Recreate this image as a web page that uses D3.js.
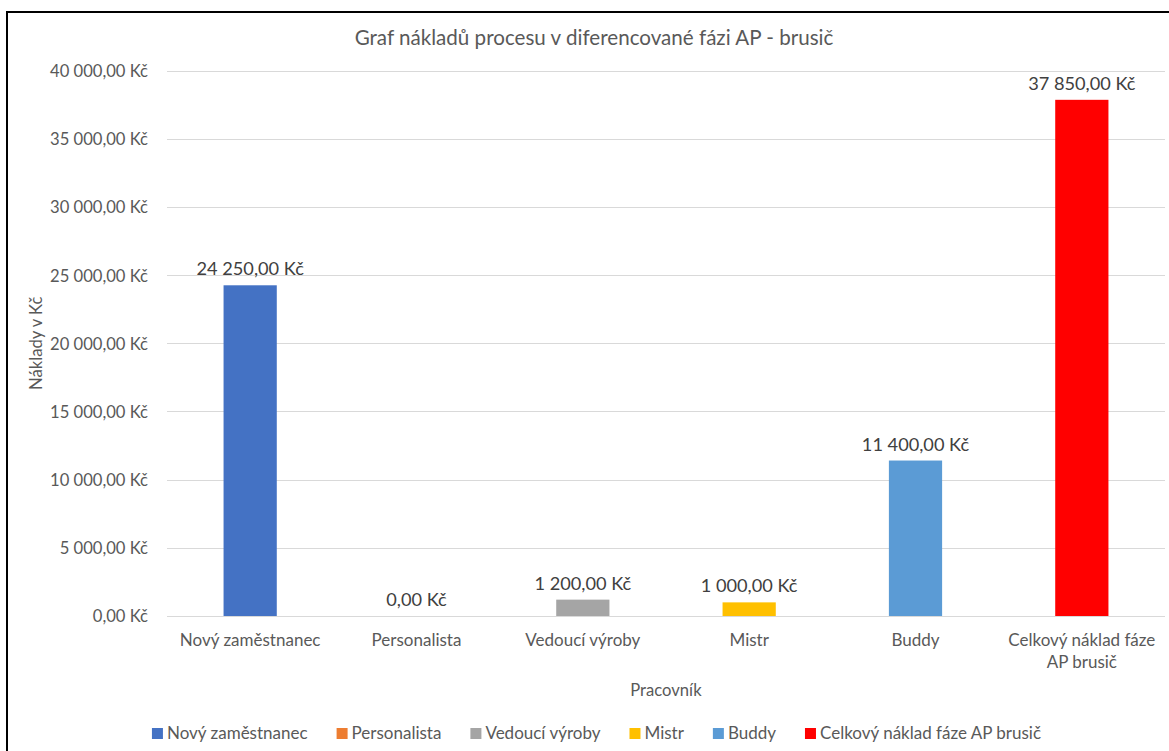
<!DOCTYPE html>
<html>
<head>
<meta charset="utf-8">
<script src="https://cdn.jsdelivr.net/npm/d3@7"></script>
<style>
  html, body { margin: 0; padding: 0; background: #fff; }
  svg { display: block; font-family: Lato, "Open Sans", sans-serif; }
</style>
</head>
<body>
<svg id="chart" width="1169" height="751"></svg>
<script>
// Costs per worker in the differentiated phase (CZK)
const categories = ["Nový zaměstnanec", "Personalista", "Vedoucí výroby", "Mistr", "Buddy", "Celkový náklad fáze AP brusič"];
const axisLabels = [["Nový zaměstnanec"], ["Personalista"], ["Vedoucí výroby"], ["Mistr"], ["Buddy"], ["Celkový náklad fáze", "AP brusič"]];
const values = [24250, 0, 1200, 1000, 11400, 37850];
const colors = ["#4472C4", "#ED7D31", "#A5A5A5", "#FFC000", "#5B9BD5", "#FF0000"];
const yTicks = [0, 5000, 10000, 15000, 20000, 25000, 30000, 35000, 40000];
const chartTitle = "Graf nákladů procesu v diferencované fázi AP - brusič";
const xTitle = "Pracovník";
const yTitle = "Náklady v Kč";

const cz = d3.formatLocale({ decimal: ",", thousands: " ", grouping: [3], currency: ["", " Kč"] });
const fmt = cz.format("$,.2f");

const svg = d3.select("#chart");
const W = 1169, H = 751;

// frame (top and left edges visible)
svg.append("path")
  .attr("d", `M7,${H} L7,12 L${W},12`)
  .attr("fill", "none").attr("stroke", "#000").attr("stroke-width", 2);

const plot = { left: 167, right: 1165, top: 70.5, bottom: 616 };

const x = d3.scaleBand().domain(categories)
  .range([plot.left, plot.right]).paddingInner(0.68).paddingOuter(0.34);
const y = d3.scaleLinear().domain([0, 40000]).range([plot.bottom, plot.top]);

// gridlines
svg.append("g").selectAll("line").data(yTicks).join("line")
  .attr("x1", plot.left).attr("x2", plot.right)
  .attr("y1", d => Math.round(y(d)) + 0.5).attr("y2", d => Math.round(y(d)) + 0.5)
  .attr("stroke", "#d9d9d9").attr("stroke-width", 1);

// y tick labels
const yAxis = d3.axisLeft(y).tickValues(yTicks).tickFormat(fmt).tickSize(0).tickPadding(0);
const gy = svg.append("g").attr("transform", "translate(148,0)").call(yAxis);
gy.select(".domain").remove();
gy.selectAll("text").attr("fill", "#595959").attr("dy", "0.36em")
  .style("font-size", "16.6px").style("font-family", "Lato");

// bars
svg.append("g").selectAll("rect").data(values).join("rect")
  .attr("x", (d, i) => x(categories[i]))
  .attr("width", x.bandwidth())
  .attr("y", d => y(d))
  .attr("height", d => y(0) - y(d))
  .attr("fill", (d, i) => colors[i]);

// value labels
svg.append("g").selectAll("text").data(values).join("text")
  .attr("x", (d, i) => x(categories[i]) + x.bandwidth() / 2)
  .attr("y", d => y(d) - 10)
  .attr("text-anchor", "middle")
  .attr("fill", "#404040")
  .style("font-size", "18.2px")
  .text(d => fmt(d));

// category labels
const xl = svg.append("g").selectAll("text").data(axisLabels).join("text")
  .attr("x", (d, i) => x(categories[i]) + x.bandwidth() / 2)
  .attr("y", 646)
  .attr("text-anchor", "middle")
  .attr("fill", "#595959")
  .style("font-size", "17px");
xl.selectAll("tspan").data(d => d).join("tspan")
  .attr("x", function () { return d3.select(this.parentNode).attr("x"); })
  .attr("dy", (d, i) => i === 0 ? 0 : 22)
  .text(d => d);

// title
svg.append("text")
  .attr("x", 594).attr("y", 45)
  .attr("text-anchor", "middle").attr("fill", "#595959")
  .style("font-size", "20.6px")
  .text(chartTitle);

// axis titles
svg.append("text")
  .attr("x", (plot.left + plot.right) / 2).attr("y", 696)
  .attr("text-anchor", "middle").attr("fill", "#595959")
  .style("font-size", "16.6px")
  .text(xTitle);

svg.append("text")
  .attr("transform", `translate(42,${(plot.top + plot.bottom) / 2}) rotate(-90)`)
  .attr("text-anchor", "middle").attr("fill", "#595959")
  .style("font-size", "16.6px")
  .text(yTitle);

// legend
const legend = svg.append("g");
const items = legend.selectAll("g").data(categories).join("g");
items.append("rect").attr("width", 11).attr("height", 11).attr("y", -11)
  .attr("fill", (d, i) => colors[i]);
items.append("text").attr("x", 15).attr("y", 0)
  .attr("fill", "#595959").style("font-size", "17px")
  .text(d => d);
let cursor = 0;
const offsets = [];
items.each(function () {
  offsets.push(cursor);
  const w = d3.select(this).select("text").node().getComputedTextLength();
  cursor += 15 + w + 29;
});
const totalW = cursor - 29;
const startX = 596.5 - totalW / 2;
items.attr("transform", (d, i) => `translate(${startX + offsets[i]},739)`);
</script>
</body>
</html>
